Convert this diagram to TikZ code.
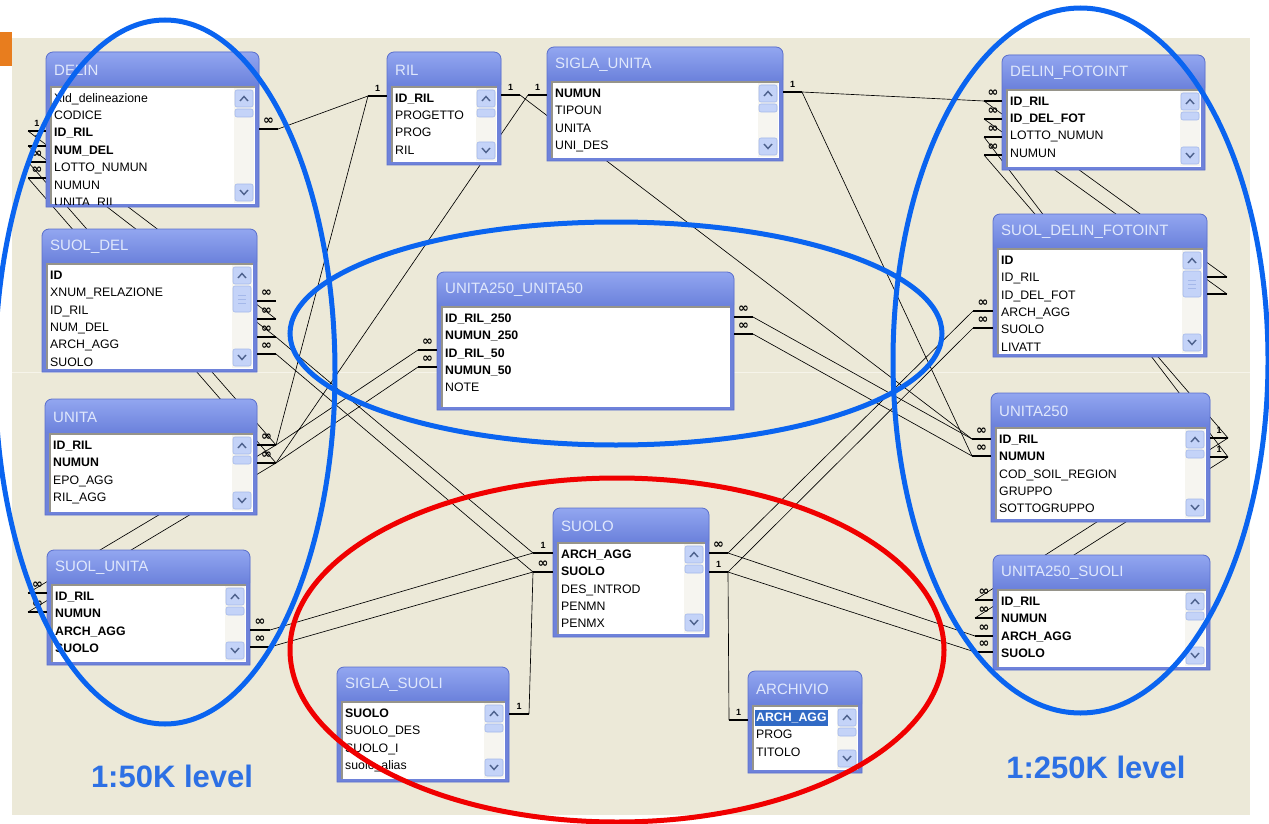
\documentclass[tikz,border=0pt]{standalone}
\usepackage{fontspec}
\setmainfont{Liberation Sans}
\newfontfamily\djv{DejaVu Sans}
\definecolor{beige}{RGB}{236,233,216}
\definecolor{slideorange}{RGB}{232,125,30}
\definecolor{frame}{RGB}{110,130,218}
\definecolor{frameedge}{RGB}{92,112,204}
\definecolor{hdtop}{RGB}{146,166,240}
\definecolor{hdbot}{RGB}{108,130,220}
\definecolor{titlecol}{RGB}{224,232,252}
\definecolor{listgray}{RGB}{150,148,138}
\definecolor{track}{RGB}{246,245,240}
\definecolor{btn}{RGB}{196,211,248}
\definecolor{btnedge}{RGB}{164,184,234}
\definecolor{chevcol}{RGB}{77,97,140}
\definecolor{hl}{RGB}{49,106,197}
\definecolor{ringblue}{RGB}{10,100,240}
\definecolor{ringred}{RGB}{240,0,0}
\definecolor{lvl}{RGB}{45,112,228}
\definecolor{gridcol}{RGB}{246,244,234}

\newcommand\lblone{1}
\newcommand\lblinf{{\djv\bfseries\fontsize{13}{13}\selectfont ∞}}
\newcommand\lblnone{}

% scrollbar: right x, top y, bottom y, kind (1 normal, 2 tall thumb)
\newcommand\dbscroll[4]{%
  \fill[sbtrack] (#1-21,#2+1) rectangle (#1-1,#3-1);
  \draw[sbbtn] (#1-20,#2+3) rectangle (#1-2,#2+20);
  \draw[chev] (#1-15,#2+14) -- (#1-11,#2+9.5) -- (#1-7,#2+14);
  \ifnum#4=2
    \draw[sbbtn] (#1-20,#2+22) rectangle (#1-2,#2+48);
    \draw[btnedge, line width=0.8pt] (#1-15,#2+31) -- (#1-7,#2+31) (#1-15,#2+35) -- (#1-7,#2+35) (#1-15,#2+39) -- (#1-7,#2+39);
  \else
    \draw[sbbtn] (#1-20,#2+22) rectangle (#1-2,#2+30);
  \fi
  \draw[sbbtn] (#1-20,#3-20) rectangle (#1-2,#3-3);
  \draw[chev] (#1-15,#3-14) -- (#1-11,#3-9.5) -- (#1-7,#3-14);
}

% table: name, x1, y1, x2, y2, title, rows, scrollbar kind
\newcommand\dbtable[8]{%
  \node[inner sep=0pt, minimum width={(#4-#2)*1pt}, minimum height={(#5-#3)*1pt}, anchor=north west] (#1) at (#2,#3) {};
  \fill[frame] (#2,#5) -- (#2,#3+7) arc[start angle=180,end angle=90,radius=7pt] -- (#4-7,#3) arc[start angle=90,end angle=0,radius=7pt] -- (#4,#5) -- cycle;
  \shade[top color=hdtop, bottom color=hdbot] (#2,#3+33) -- (#2,#3+7) arc[start angle=180,end angle=90,radius=7pt] -- (#4-7,#3) arc[start angle=90,end angle=0,radius=7pt] -- (#4,#3+33) -- cycle;
  \draw[frameline] (#2,#5) -- (#2,#3+7) arc[start angle=180,end angle=90,radius=7pt] -- (#4-7,#3) arc[start angle=90,end angle=0,radius=7pt] -- (#4,#5) -- cycle;
  \node[tbltitle, anchor=west] (#1-title) at (#2+8,#3+18) {#6};
  \fill[white] (#2+5,#3+35) rectangle (#4-4,#5-3);
  \draw[listedge] (#2+5,#5-3) -- (#2+5,#3+35) -- (#4-4,#3+35);
  \begin{scope}
    \clip (#2+5.8,#3+35.8) rectangle (#4-4,#5-3);
    \foreach \st/\tx [count=\i] in {#7} {
      \node[row\st, anchor=west] (#1-\i) at (#2+7,#3+47+17.45*\i-17.45) {\tx};
    }
  \end{scope}
  \ifnum#8>0 \dbscroll{#4-4}{#3+35}{#5-3}{#8}\fi
}

\begin{document}
\begin{tikzpicture}[x=1pt,y=-1pt,
  conn/.style={draw=black, line width=0.65pt},
  stubline/.style={line width=2.6pt, draw=black},
  stublbl/.style={font=\fontsize{9}{10}\selectfont\bfseries, inner sep=0pt},
  frameline/.style={draw=frameedge, line width=0.8pt},
  tbltitle/.style={font=\fontsize{15}{17}\selectfont, text=titlecol, inner sep=0pt},
  rowbase/.style={inner xsep=1pt, inner ysep=2pt, text height=8.8pt, text depth=2.6pt},
  rown/.style={rowbase, font=\fontsize{12.3}{14}\selectfont},
  rowb/.style={rowbase, font=\fontsize{12.3}{14}\selectfont\bfseries},
  rowh/.style={rowbase, font=\fontsize{12.3}{14}\selectfont\bfseries, fill=hl, text=white},
  listedge/.style={draw=listgray, line width=1.4pt},
  sbtrack/.style={fill=track},
  sbbtn/.style={fill=btn, draw=btnedge, line width=0.6pt, rounded corners=2pt},
  chev/.style={draw=chevcol, line width=1.4pt},
  ring/.style={line width=5pt},
  levellbl/.style={font=\fontsize{31}{36}\selectfont\bfseries, text=lvl, inner sep=0pt}
]
\useasboundingbox (0,0) rectangle (1269,824);
\fill[white] (0,0) rectangle (1269,824);
\fill[beige] (12,38) rectangle (1250,815);
\fill[slideorange] (0,32) rectangle (12,66);
\draw[gridcol, line width=1pt] (12,372) -- (1250,372);

% stub coordinates: name / box x / outer x / y / label
\foreach \nm/\xb/\xo/\yy/\lb in {
  dlA/46/28/131/one, dlB/46/28/146/one, dlC/46/28/162/inf, dlD/46/28/178/inf,
  dlR/259/278/129/inf,
  rlL/387/368/96/one, rlR/501/520/95/one,
  suL/547/528/95/one, suR/783/802/92/one,
  dfA/1002/984/101/inf, dfB/1002/984/119/inf, dfC/1002/984/137/inf, dfD/1002/984/155/inf,
  sdA/257/276/301/inf, sdB/257/276/319/inf, sdC/257/276/337/inf, sdD/257/276/354/inf,
  unA/257/276/445/inf, unB/257/276/463/inf,
  uuLA/437/418/350/inf, uuLB/437/418/367/inf,
  uuRA/734/753/317/inf, uuRB/734/753/334/inf,
  sfLA/993/973/311/inf, sfLB/993/973/328/inf,
  sfRA/1207/1227/277/none, sfRB/1207/1227/294/none,
  u2LA/991/972/439/inf, u2LB/991/972/456/inf,
  u2RA/1210/1228/438/one, u2RB/1210/1228/457/one,
  suoLA/47/28/593/inf, suoLB/47/28/612/inf,
  suoRA/250/270/630/inf, suoRB/250/270/647/inf,
  soLA/553/533/553/one, soLB/553/533/572/inf,
  soRA/709/728/553/inf, soRB/709/728/572/one,
  usA/993/975/600/inf, usB/993/975/618/inf, usC/993/975/636/inf, usD/993/975/652/inf,
  ssR/509/529/714/one, arL/748/729/720/one} {
  \coordinate (\nm) at (\xo,\yy);
  \coordinate (\nm-in) at (\xb,\yy);
}

% connectors (drawn under the tables)
\foreach \a/\b in {dlR/rlL, rlL/unA, rlR/u2LA, suL/unB, suR/dfA, suR/u2LB,
  dlC/unA, dlD/unB, dlA/sdB, dlB/sdC,
  sdC/soLA, sdD/soLB, suoRA/soLA, suoRB/soLB,
  unA/suoLA, unB/suoLB, uuLA/unA, uuLB/unB,
  uuRA/u2LA, uuRB/u2LB, sfLA/soRA, sfLB/soRB, soRA/usC, soRB/usD,
  soLB/ssR, soRB/arL,
  dfD/u2RA, dfC/u2RB, dfB/sfRB, dfA/sfRA, u2RA/usA, u2RB/usB} {
  \draw[conn] (\a) -- (\b);
}

% tables
\dbtable{delin}{46}{52}{259}{207}{DELIN}{n/Xid\_delineazione, n/CODICE, b/ID\_RIL, b/NUM\_DEL, n/LOTTO\_NUMUN, n/NUMUN, n/UNITA\_RIL}{1}
\dbtable{ril}{387}{52}{501}{165}{RIL}{b/ID\_RIL, n/PROGETTO, n/PROG, n/RIL}{1}
\dbtable{siglaunita}{547}{47}{783}{161}{SIGLA\_UNITA}{b/NUMUN, n/TIPOUN, n/UNITA, n/UNI\_DES}{1}
\dbtable{delinfoto}{1002}{55}{1205}{170}{DELIN\_FOTOINT}{b/ID\_RIL, b/ID\_DEL\_FOT, n/LOTTO\_NUMUN, n/NUMUN}{1}
\dbtable{suoldel}{42}{229}{257}{372}{SUOL\_DEL}{b/ID, n/XNUM\_RELAZIONE, n/ID\_RIL, n/NUM\_DEL, n/ARCH\_AGG, n/SUOLO}{2}
\dbtable{unita}{45}{399}{257}{515}{UNITA}{b/ID\_RIL, b/NUMUN, n/EPO\_AGG, n/RIL\_AGG}{1}
\dbtable{suolunita}{47}{550}{250}{665}{SUOL\_UNITA}{b/ID\_RIL, b/NUMUN, b/ARCH\_AGG, b/SUOLO}{1}
\dbtable{uu}{437}{272}{734}{410}{UNITA250\_UNITA50}{b/ID\_RIL\_250, b/NUMUN\_250, b/ID\_RIL\_50, b/NUMUN\_50, n/NOTE}{0}
\dbtable{suoldelinfoto}{993}{214}{1207}{357}{SUOL\_DELIN\_FOTOINT}{b/ID, n/ID\_RIL, n/ID\_DEL\_FOT, n/ARCH\_AGG, n/SUOLO, n/LIVATT}{2}
\dbtable{unita250}{991}{393}{1210}{522}{UNITA250}{b/ID\_RIL, b/NUMUN, n/COD\_SOIL\_REGION, n/GRUPPO, n/SOTTOGRUPPO}{1}
\dbtable{suolo}{553}{508}{709}{637}{SUOLO}{b/ARCH\_AGG, b/SUOLO, n/DES\_INTROD, n/PENMN, n/PENMX}{1}
\dbtable{u250suoli}{993}{555}{1210}{670}{UNITA250\_SUOLI}{b/ID\_RIL, b/NUMUN, b/ARCH\_AGG, b/SUOLO}{1}
\dbtable{siglasuoli}{337}{667}{509}{782}{SIGLA\_SUOLI}{b/SUOLO, n/SUOLO\_DES, n/SUOLO\_I, n/suolo\_alias}{1}
\dbtable{archivio}{748}{671}{862}{773}{ARCHIVIO}{h/ARCH\_AGG, n/PROG, n/TITOLO}{1}

% relationship end stubs and their labels
\foreach \nm/\xb/\xo/\yy/\lb in {
  dlA/46/28/131/one, dlB/46/28/146/one, dlC/46/28/162/inf, dlD/46/28/178/inf,
  dlR/259/278/129/inf,
  rlL/387/368/96/one, rlR/501/520/95/one,
  suL/547/528/95/one, suR/783/802/92/one,
  dfA/1002/984/101/inf, dfB/1002/984/119/inf, dfC/1002/984/137/inf, dfD/1002/984/155/inf,
  sdA/257/276/301/inf, sdB/257/276/319/inf, sdC/257/276/337/inf, sdD/257/276/354/inf,
  unA/257/276/445/inf, unB/257/276/463/inf,
  uuLA/437/418/350/inf, uuLB/437/418/367/inf,
  uuRA/734/753/317/inf, uuRB/734/753/334/inf,
  sfLA/993/973/311/inf, sfLB/993/973/328/inf,
  sfRA/1207/1227/277/none, sfRB/1207/1227/294/none,
  u2LA/991/972/439/inf, u2LB/991/972/456/inf,
  u2RA/1210/1228/438/one, u2RB/1210/1228/457/one,
  suoLA/47/28/593/inf, suoLB/47/28/612/inf,
  suoRA/250/270/630/inf, suoRB/250/270/647/inf,
  soLA/553/533/553/one, soLB/553/533/572/inf,
  soRA/709/728/553/inf, soRB/709/728/572/one,
  usA/993/975/600/inf, usB/993/975/618/inf, usC/993/975/636/inf, usD/993/975/652/inf,
  ssR/509/529/714/one, arL/748/729/720/one} {
  \draw[stubline] (\nm-in) -- (\nm);
  \node[stublbl] (\nm-lbl) at ({(\xb+\xo)/2},\yy-7.5) {\csname lbl\lb\endcsname};
}

% level rings
\draw[ring, ringblue] (165,372) ellipse [x radius=170, y radius=352];
\draw[ring, ringblue] (1080.5,360.5) ellipse [x radius=187.5, y radius=352.5];
\draw[ring, ringblue] (616,333.5) ellipse [x radius=326, y radius=111.5];
\draw[ring, ringred] (617,650) ellipse [x radius=327, y radius=172];

\node[levellbl] (lbl50) at (172,776) {1:50K level};
\node[levellbl] (lbl250) at (1096,767) {1:250K level};
\end{tikzpicture}
\end{document}
